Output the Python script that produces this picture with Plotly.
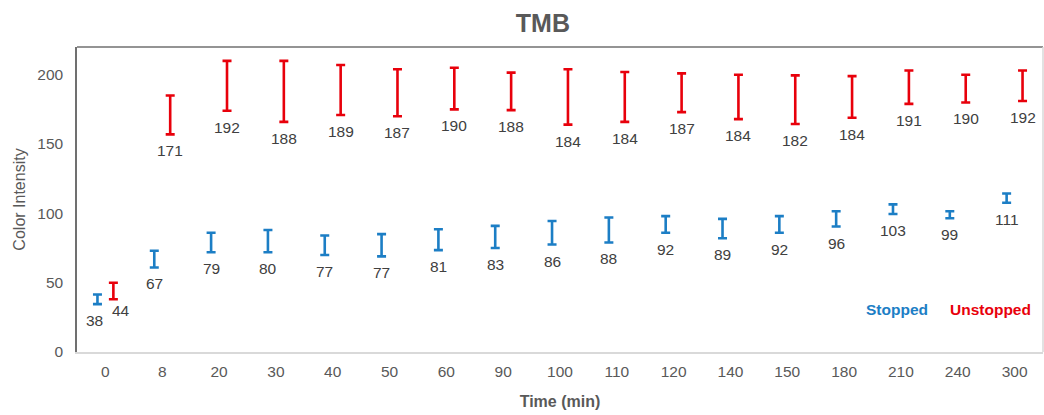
import plotly.graph_objects as go

categories = ["0", "8", "20", "30", "40", "50", "60", "90", "100", "110",
              "120", "140", "150", "180", "210", "240", "300"]
stopped = [38, 67, 79, 80, 77, 77, 81, 83, 86, 88, 92, 89, 92, 96, 103, 99, 111]
stopped_err = [3.5, 6, 7, 8, 7, 8, 7.5, 8, 8.5, 9, 6, 7, 6, 5.5, 3.5, 2.5, 3.3]
unstopped = [44, 171, 192, 188, 189, 187, 190, 188, 184, 184, 187, 184, 182, 184, 191, 190, 192]
unstopped_err = [6, 14, 18, 22, 18, 17, 15, 13.5, 20, 18, 14, 16, 17.5, 15, 12, 10, 11]

BLUE = "#1c7ec5"
RED = "#e8000b"
GRAY = "#595959"
LABEL = "#404040"
FONT = "Arial, Liberation Sans"
OFFSET = 0.14

# per-label nudges (pixels) for the crowded first category
label_shift = {("Stopped", 0): (-3, 0), ("Unstopped", 0): (8, 5)}

fig = go.Figure()

series = [
    ("Stopped", stopped, stopped_err, BLUE, -OFFSET),
    ("Unstopped", unstopped, unstopped_err, RED, OFFSET),
]

annotations = []
for name, vals, errs, color, off in series:
    xs = [i + off for i in range(len(categories))]
    fig.add_trace(go.Scatter(
        x=xs, y=vals, mode="markers", name=name,
        marker=dict(size=1, color="rgba(0,0,0,0)"),
        error_y=dict(type="data", array=errs, visible=True,
                     color=color, thickness=2.6, width=4.5),
        showlegend=False, hoverinfo="y",
    ))
    for i, (x, v, e) in enumerate(zip(xs, vals, errs)):
        dx, dy = label_shift.get((name, i), (0, 0))
        annotations.append(dict(
            x=x, y=v - e, xref="x", yref="y", text=str(v),
            showarrow=False, yanchor="top", xanchor="center",
            xshift=dx, yshift=-6 + dy,
            font=dict(family=FONT, size=15.5, color=LABEL),
        ))

annotations.append(dict(
    x=0.849, y=0.139, xref="paper", yref="paper", text="<b>Stopped</b>",
    showarrow=False, xanchor="center", yanchor="middle",
    font=dict(family=FONT, size=15.5, color=BLUE)))
annotations.append(dict(
    x=0.9454, y=0.139, xref="paper", yref="paper", text="<b>Unstopped</b>",
    showarrow=False, xanchor="center", yanchor="middle",
    font=dict(family=FONT, size=15.5, color=RED)))

fig.update_layout(
    width=1044, height=415,
    margin=dict(l=77, r=1, t=47, b=63),
    paper_bgcolor="white", plot_bgcolor="white",
    title=dict(text="<b>TMB</b>", x=0.52, xanchor="center", y=0.945, yanchor="middle",
               font=dict(family=FONT, size=25, color=GRAY)),
    font=dict(family=FONT, color=GRAY),
    annotations=annotations,
    xaxis=dict(
        range=[-0.5, len(categories) - 0.5],
        tickvals=list(range(len(categories))), ticktext=categories,
        showgrid=False, zeroline=False, showline=True, linecolor="#d9d9d9", linewidth=1.5,
        ticks="", tickfont=dict(size=15.5, color=GRAY), ticklabelstandoff=5,
        title=dict(text="<b>Time (min)</b>", font=dict(size=16, color=GRAY), standoff=16),
    ),
    yaxis=dict(
        range=[0, 220], tickvals=[0, 50, 100, 150, 200],
        showgrid=False, zeroline=False, showline=True, linecolor="#707070", linewidth=1.5,
        ticks="", tickfont=dict(size=15.5, color=GRAY), ticklabelstandoff=9,
        title=dict(text="Color Intensity", font=dict(size=16, color=GRAY), standoff=8),
    ),
    shapes=[
        dict(type="line", xref="paper", yref="paper", x0=0, x1=1, y0=1, y1=1,
             line=dict(color="#707070", width=1.5)),
        dict(type="line", xref="paper", yref="paper", x0=1, x1=1, y0=0, y1=1,
             line=dict(color="#d9d9d9", width=1.5)),
    ],
)

fig.write_html("out.html", config={"displayModeBar": False},
               post_script="document.body.style.margin='0';document.body.style.overflow='hidden';")
